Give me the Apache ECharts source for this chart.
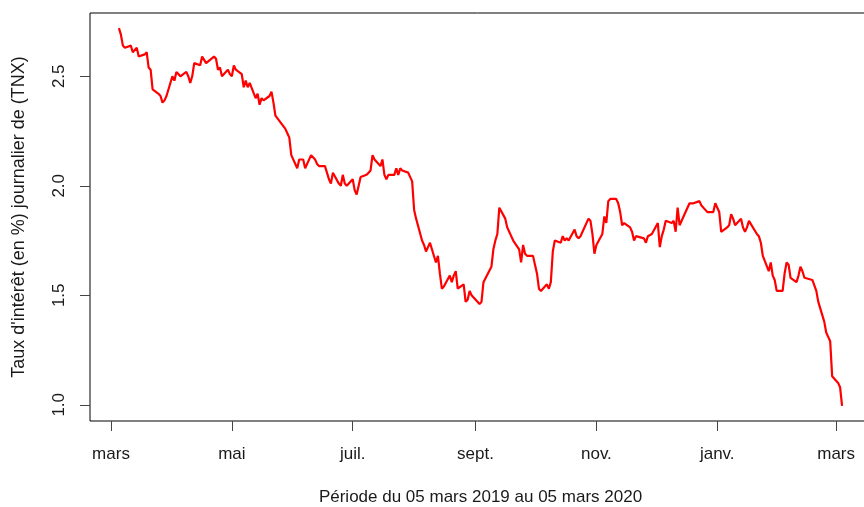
<!DOCTYPE html>
<html>
<head>
<meta charset="utf-8">
<title>Taux TNX</title>
<script src="https://cdn.jsdelivr.net/npm/echarts@6/dist/echarts.min.js"></script>
<style>
  html, body { margin: 0; padding: 0; background: #ffffff; overflow: hidden; }
  #chart { width: 864px; height: 507px; }
</style>
</head>
<body>
<div id="chart"></div>
<script>
// Daily closing yield of the 10-year Treasury note (^TNX), in %.
// One entry per month: the month, its trading days, and the closes on those days.
const months = [
  '2019-03', '2019-04', '2019-05', '2019-06', '2019-07', '2019-08', '2019-09',
  '2019-10', '2019-11', '2019-12', '2020-01', '2020-02', '2020-03'
];

const sessionDays = [
  [5, 6, 7, 8, 11, 12, 13, 14, 15, 18, 19, 20, 21, 22, 25, 26, 27, 28, 29],
  [1, 2, 3, 4, 5, 8, 9, 10, 11, 12, 15, 16, 17, 18, 22, 23, 24, 25, 26, 29, 30],
  [1, 2, 3, 6, 7, 8, 9, 10, 13, 14, 15, 16, 17, 20, 21, 22, 23, 24, 28, 29, 30, 31],
  [3, 4, 5, 6, 7, 10, 11, 12, 13, 14, 17, 18, 19, 20, 21, 24, 25, 26, 27, 28],
  [1, 2, 3, 5, 8, 9, 10, 11, 12, 15, 16, 17, 18, 19, 22, 23, 24, 25, 26, 29, 30, 31],
  [1, 2, 5, 6, 7, 8, 9, 12, 13, 14, 15, 16, 19, 20, 21, 22, 23, 26, 27, 28, 29, 30],
  [3, 4, 5, 6, 9, 10, 11, 12, 13, 16, 17, 18, 19, 20, 23, 24, 25, 26, 27, 30],
  [1, 2, 3, 4, 7, 8, 9, 10, 11, 14, 15, 16, 17, 18, 21, 22, 23, 24, 25, 28, 29, 30, 31],
  [1, 4, 5, 6, 7, 8, 11, 12, 13, 14, 15, 18, 19, 20, 21, 22, 25, 26, 27, 29],
  [2, 3, 4, 5, 6, 9, 10, 11, 12, 13, 16, 17, 18, 19, 20, 23, 24, 26, 27, 30, 31],
  [2, 3, 6, 7, 8, 9, 10, 13, 14, 15, 16, 17, 21, 22, 23, 24, 27, 28, 29, 30, 31],
  [3, 4, 5, 6, 7, 10, 11, 12, 13, 14, 18, 19, 20, 21, 24, 25, 26, 27, 28],
  [2, 3, 4]
];

const tnxClose = [
  [2.72, 2.69, 2.64, 2.63, 2.64, 2.61, 2.61, 2.63, 2.59, 2.60, 2.61, 2.54, 2.53, 2.44, 2.42, 2.41, 2.38, 2.39, 2.41],
  [2.50, 2.48, 2.52, 2.51, 2.50, 2.52, 2.50, 2.47, 2.50, 2.56, 2.55, 2.59, 2.59, 2.56, 2.59, 2.58, 2.53, 2.54, 2.50, 2.53, 2.51],
  [2.50, 2.55, 2.53, 2.51, 2.45, 2.48, 2.45, 2.47, 2.40, 2.42, 2.37, 2.40, 2.39, 2.41, 2.43, 2.38, 2.32, 2.32, 2.26, 2.24, 2.22, 2.14],
  [2.08, 2.12, 2.12, 2.12, 2.08, 2.14, 2.14, 2.12, 2.10, 2.09, 2.09, 2.06, 2.03, 2.01, 2.06, 2.01, 2.00, 2.05, 2.01, 2.00],
  [2.03, 1.98, 1.96, 2.04, 2.05, 2.06, 2.07, 2.14, 2.12, 2.09, 2.12, 2.05, 2.03, 2.05, 2.05, 2.08, 2.05, 2.08, 2.07, 2.06, 2.06, 2.02],
  [1.89, 1.85, 1.75, 1.73, 1.70, 1.72, 1.74, 1.65, 1.68, 1.60, 1.53, 1.54, 1.59, 1.56, 1.59, 1.61, 1.53, 1.55, 1.47, 1.48, 1.52, 1.50],
  [1.46, 1.47, 1.56, 1.56, 1.63, 1.71, 1.75, 1.78, 1.90, 1.85, 1.81, 1.79, 1.77, 1.75, 1.71, 1.65, 1.73, 1.69, 1.68, 1.68],
  [1.64, 1.60, 1.53, 1.52, 1.55, 1.53, 1.56, 1.70, 1.75, 1.74, 1.77, 1.75, 1.76, 1.75, 1.80, 1.77, 1.76, 1.77, 1.79, 1.85, 1.84, 1.78, 1.69],
  [1.73, 1.78, 1.86, 1.83, 1.93, 1.94, 1.94, 1.92, 1.88, 1.82, 1.83, 1.81, 1.79, 1.75, 1.77, 1.77, 1.76, 1.74, 1.77, 1.78],
  [1.83, 1.72, 1.77, 1.80, 1.84, 1.83, 1.84, 1.79, 1.90, 1.82, 1.88, 1.88, 1.92, 1.92, 1.92, 1.93, 1.91, 1.89, 1.88, 1.88, 1.92],
  [1.88, 1.79, 1.81, 1.82, 1.87, 1.85, 1.82, 1.85, 1.81, 1.79, 1.81, 1.84, 1.78, 1.77, 1.74, 1.68, 1.61, 1.65, 1.59, 1.57, 1.52],
  [1.52, 1.60, 1.65, 1.64, 1.58, 1.56, 1.59, 1.63, 1.61, 1.58, 1.57, 1.57, 1.52, 1.47, 1.38, 1.33, 1.31, 1.29, 1.13],
  [1.10, 1.08, 0.995]
];

// Month ticks along the date axis.
const tickDates = ['2019-03-01', '2019-05-01', '2019-07-01', '2019-09-01', '2019-11-01', '2020-01-01', '2020-03-01'];
const tickLabels = ['mars', 'mai', 'juil.', 'sept.', 'nov.', 'janv.', 'mars'];
const yTicks = [1.0, 1.5, 2.0, 2.5];

const toUTC = (s) => {
  const [y, m, d] = s.split('-').map(Number);
  return Date.UTC(y, m - 1, d);
};

const points = [];
months.forEach((m, i) => {
  const [y, mo] = m.split('-').map(Number);
  sessionDays[i].forEach((d, j) => {
    points.push([Date.UTC(y, mo - 1, d), tnxClose[i][j]]);
  });
});

const tickTs = tickDates.map(toUTC);

// Axis ranges padded by 4% on each side of the data.
const xs = points.map(p => p[0]);
const ys = points.map(p => p[1]);
const xLo = Math.min(...xs), xHi = Math.max(...xs);
const yLo = Math.min(...ys), yHi = Math.max(...ys);
const xPad = (xHi - xLo) * 0.04;
const yPad = (yHi - yLo) * 0.04;

const FONT = 'Liberation Sans, Arial, Helvetica, sans-serif';
const TEXT = '#1a1a1a';

const chart = echarts.init(document.getElementById('chart'), null, { renderer: 'canvas' });

chart.setOption({
  animation: false,
  backgroundColor: '#ffffff',
  // The plotting box runs a little past the right edge of the page.
  grid: {
    left: 90,
    right: -7,
    top: 13,
    bottom: 86,
    outerBoundsMode: 'none',
    show: true,
    borderColor: '#000000',
    borderWidth: 1,
    backgroundColor: 'transparent'
  },
  xAxis: {
    type: 'value',
    min: xLo - xPad,
    max: xHi + xPad,
    axisLine: { show: false },
    splitLine: { show: false },
    axisTick: {
      show: true,
      customValues: tickTs,
      length: 10,
      lineStyle: { color: '#444444', width: 1 }
    },
    axisLabel: {
      customValues: tickTs,
      margin: 25,
      fontSize: 17,
      fontFamily: FONT,
      color: TEXT,
      hideOverlap: false,
      formatter: (v) => {
        const i = tickTs.findIndex(t => Math.abs(t - v) < 43200000);
        return i >= 0 ? tickLabels[i] : '';
      }
    },
    name: 'Période du 05 mars 2019 au 05 mars 2020',
    nameLocation: 'middle',
    nameGap: 68,
    nameTextStyle: { fontSize: 17, fontFamily: FONT, color: TEXT }
  },
  yAxis: {
    type: 'value',
    min: yLo - yPad,
    max: yHi + yPad,
    axisLine: { show: false },
    splitLine: { show: false },
    axisTick: {
      show: true,
      customValues: yTicks,
      length: 10,
      lineStyle: { color: '#444444', width: 1 }
    },
    axisLabel: {
      customValues: yTicks,
      rotate: 90,
      margin: 22,
      fontSize: 17,
      fontFamily: FONT,
      color: TEXT,
      formatter: (v) => Number(v).toFixed(1)
    },
    name: "Taux d'intérêt (en %) journalier de (TNX)",
    nameLocation: 'middle',
    nameRotate: 90,
    nameGap: 62,
    nameTextStyle: { fontSize: 18, fontFamily: FONT, color: TEXT }
  },
  series: [{
    type: 'line',
    data: points,
    showSymbol: false,
    smooth: false,
    lineStyle: { color: '#ff0000', width: 2.2 },
    emphasis: { disabled: true }
  }]
});
</script>
</body>
</html>
